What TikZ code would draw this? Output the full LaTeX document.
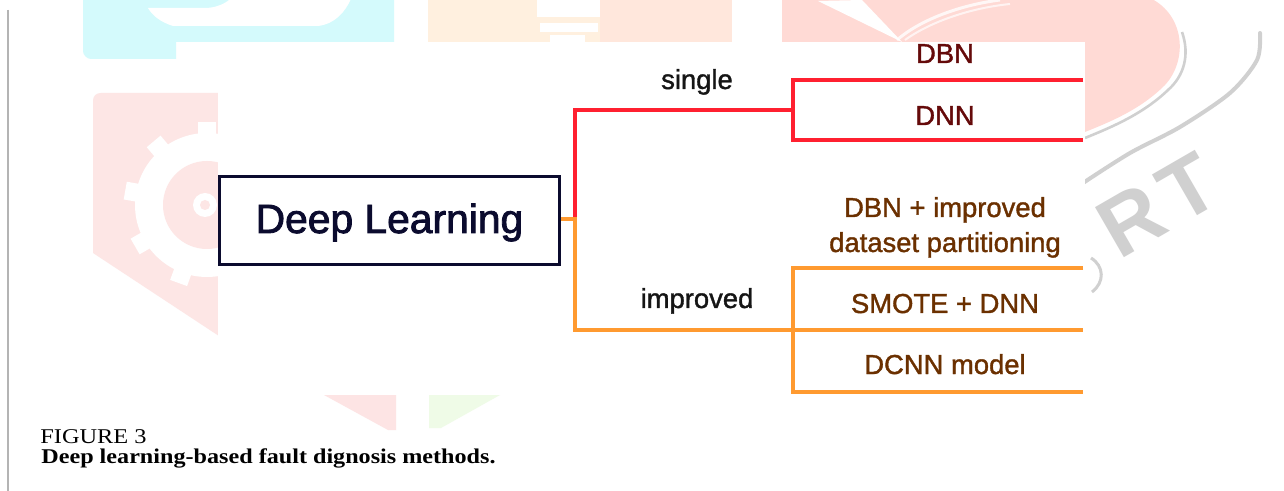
\documentclass[tikz,border=0pt]{standalone}
\usepackage{fontspec}
\setmainfont{Liberation Sans}
\newfontfamily\medfont[FakeBold=1.3]{Liberation Sans}
\newfontfamily\headfont[FakeBold=2]{Liberation Sans}
\newfontfamily\capfont{Liberation Serif}
\usepackage{graphicx}
\definecolor{cRed}{HTML}{FF2030}
\definecolor{cOrange}{HTML}{FF9A30}
\definecolor{cMaroon}{HTML}{650A0A}
\definecolor{cBrown}{HTML}{6B3000}
\definecolor{cNavy}{HTML}{0B0B2E}
\definecolor{cLabel}{HTML}{151515}
\definecolor{wcyan}{HTML}{D4FAFC}
\definecolor{worange}{HTML}{FFF0DF}
\definecolor{wpeach}{HTML}{FFE7DC}
\definecolor{wred}{HTML}{FFDAD5}
\definecolor{wpink}{HTML}{FDE6E5}
\definecolor{wpinkb}{HTML}{FDE4E4}
\definecolor{wgreen}{HTML}{EFFBE7}
\definecolor{wgray}{HTML}{D0D0D0}
\definecolor{edgegray}{HTML}{B4B4B4}
\begin{document}
\begin{tikzpicture}[x=0.5pt,y=-0.5pt,
  lbl/.style={anchor=base, inner sep=0pt, text=cLabel, font=\medfont\fontsize{13.7pt}{16pt}\selectfont},
  leafR/.style={lbl, text=cMaroon},
  leafO/.style={lbl, text=cBrown},
  redL/.style={draw=cRed, line width=1.6pt},
  oraL/.style={draw=cOrange, line width=1.6pt},
  dlbox/.style={draw=cNavy, line width=1.6pt, minimum width=169.9pt, minimum height=43.9pt,
    inner sep=0pt, text=cNavy, font=\headfont\fontsize{20.4pt}{24pt}\selectfont, text height=12.5pt, text depth=0pt},
  capstyle/.style={anchor=base west, inner sep=0pt, text=black}
]
\useasboundingbox (0,0) rectangle (1284,491);
\fill[white] (0,0) rectangle (1284,491);

% ---------- faint watermark ----------
% cyan
\fill[wcyan] (83,0) -- (394,0) -- (394,42) -- (176,42) -- (176,59) -- (91,59)
  .. controls (87,59) and (83,55) .. (83,51) -- cycle;
\fill[white] (230,-1) -- (351,-1) .. controls (345,12) and (335,24) .. (318,26) -- (173,26)
  .. controls (160,22) and (152,15) .. (148,8) -- (205,8) .. controls (215,8) and (225,4) .. (230,-1) -- cycle;
% orange / peach
\fill[worange] (428,0) rectangle (600,42);
\fill[wpeach] (600,0) rectangle (732,42);
\fill[white] (537,0) rectangle (600,17);
\fill[white] (540,23) rectangle (598,32);
\fill[white] (550,35) rectangle (585,42);
% red
\fill[wred] (782,-2) -- (1150,-2) .. controls (1185,15) and (1188,60) .. (1165,85)
  .. controls (1140,110) and (1110,122) .. (1080,134) -- (782,134) -- cycle;
\fill[white] (818,1) -- (862,0) -- (902,42) -- cycle;
\draw[white, line width=1.5pt, opacity=0.8] (897,40) .. controls (920,20) and (960,5) .. (1000,0);
\draw[white, line width=1pt, opacity=0.7] (905,40) .. controls (930,22) and (970,8) .. (1010,4);
\draw[wgray, line width=1.3pt] (1182,32) .. controls (1190,55) and (1184,76) .. (1168,90)
  .. controls (1143,114) and (1112,127) .. (1085,138);
\draw[wgray, line width=2pt, line cap=round] plot[smooth] coordinates
  {(1260,33) (1257,60) (1230,93) (1180,127) (1130,153) (1083,183)};
\node[rotate=30, inner sep=0pt, text=wgray, font=\fontsize{42pt}{42pt}\selectfont\bfseries] (wmrt) at (1158,205) {R\kern5pt T};
\draw[wgray, line width=1.5pt] (1091,258) .. controls (1104,266) and (1105,282) .. (1092,292);
% left pink with gear
\begin{scope}
  \clip (225,93) -- (101,93) .. controls (96,93) and (93,96) .. (93,101) -- (93,253) -- (225,340) -- cycle;
  \fill[wpink] (0,0) rectangle (300,400);
  \fill[white] (207,205) circle[radius=72];
  \foreach \a in {0,40,...,320}
    \fill[white, rotate around={\a:(207,205)}] (198,122) rectangle (216,140);
  \fill[wpink] (207,205) circle[radius=44];
  \fill[white] (205,205) circle[radius=12];
  \fill[wpink] (205,205) circle[radius=5];
\end{scope}
% bottom triangles
\fill[wpinkb] (324,395) -- (396,395) -- (396,430) -- (388,430) -- cycle;
\fill[wgreen] (429,395) -- (500,395) -- (441,428) -- (429,428) -- cycle;

% diagram background
\fill[white] (218,42) rectangle (1085,395);
% left page edge
\draw[edgegray, line width=0.8pt] (8,10) -- (8,491);

% ---------- diagram ----------
\node[dlbox] (dl) at (389.5,220.5) {Deep Learning};

\coordinate (j) at (575,219);
\coordinate (rt) at (575,110);
\coordinate (rb) at (793,110);
\coordinate (rtop) at (793,80);
\coordinate (rbot) at (793,140);
\coordinate (rtopE) at (1083,80);
\coordinate (rbotE) at (1083,140);
\coordinate (ob) at (575,330);
\coordinate (otop) at (793,268);
\coordinate (obot) at (793,392);
\coordinate (otopE) at (1083,268);
\coordinate (omidE) at (1083,330);
\coordinate (obotE) at (1083,392);

\draw[redL] (j) -- (rt) -- (rb);
\draw[redL] (rtopE) -- (rtop) -- (rbot) -- (rbotE);
\draw[oraL] (dl.east |- j) -- (j) -- (ob) -- (omidE);
\draw[oraL] (otopE) -- (otop) -- (obot) -- (obotE);

\node[lbl] (single) at (697,89) {single};
\node[lbl] (improved) at (697,308) {improved};

\node[leafR] (dbn) at (945,63) {DBN};
\node[leafR] (dnn) at (945,125) {DNN};
\node[leafO] (dbni) at (945,217) {DBN + improved};
\node[leafO] (dsp) at (945,252) {dataset partitioning};
\node[leafO] (smote) at (945,313) {SMOTE + DNN};
\node[leafO] (dcnn) at (945,374) {DCNN model};

% caption
\node[capstyle] (fig) at (40,444) {\scalebox{1.16}[1]{\capfont\fontsize{10.5pt}{12pt}\selectfont FIGURE 3}};
\node[capstyle] (cap) at (41,463) {\scalebox{1.15}[1]{\capfont\bfseries\fontsize{10.5pt}{12pt}\selectfont Deep learning-based fault dignosis methods.}};
\end{tikzpicture}
\end{document}
